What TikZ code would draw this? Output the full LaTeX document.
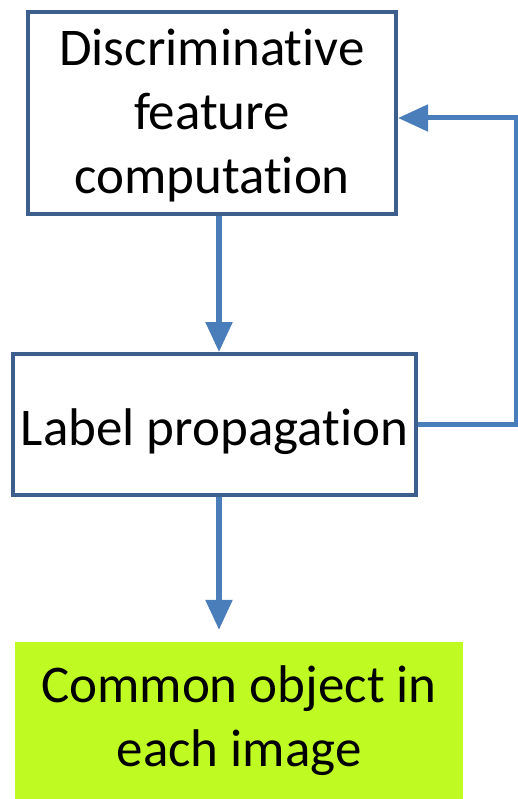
\documentclass[tikz,border=0pt]{standalone}
\usepackage{fontspec}
\setmainfont{Carlito}[Ligatures=NoCommon]
\usetikzlibrary{arrows.meta,calc}
\definecolor{boxline}{HTML}{3C5F8E}
\definecolor{flow}{HTML}{4A7EBB}
\definecolor{result}{HTML}{BFFB23}
% lower the ink of a label without changing its reported extent
\newcommand{\lowerby}[2]{\raisebox{-#1}[\height][\depth]{#2}}
\tikzset{
  stepbox/.style={draw=boxline, line width=4pt, fill=white, inner sep=0pt,
    align=center, font=\fontsize{53}{64}\selectfont},
  resultbox/.style={fill=result, inner sep=0pt, align=center,
    font=\fontsize{53}{64}\selectfont},
  arr/.style={flow, line width=5.5pt,
    -{Triangle[width=26pt,length=30pt]}}
}
\begin{document}
\begin{tikzpicture}[x=1pt,y=1pt]
  \useasboundingbox (0,0) rectangle (518,-799);
  \node[stepbox, minimum width=368pt, minimum height=202pt] (feat) at (212,-113)
    {\lowerby{4pt}{\begin{tabular}{@{}c@{}}Discriminative\\feature\\computation\end{tabular}}};
  \node[stepbox, minimum width=403pt, minimum height=141pt] (prop) at (214.5,-424.5)
    {\lowerby{7pt}{Label propagation}};
  \node[resultbox, minimum width=448pt, minimum height=157pt] (obj) at (239,-720.5)
    {Common object in\\each image};
  % vertical flow
  \coordinate (a1) at ($(feat.south)+(7,0)$);
  \draw[arr] (a1) -- (a1 |- prop.north);
  \coordinate (a2) at ($(prop.south)+(4.5,0)$);
  \draw[arr, shorten >=12pt] (a2) -- (a2 |- obj.north);
  % feedback loop
  \coordinate (fb) at (516,-118);
  \draw[arr, line width=5pt, line join=miter] (prop.east) -| (fb) -- (fb -| feat.east);
\end{tikzpicture}
\end{document}
